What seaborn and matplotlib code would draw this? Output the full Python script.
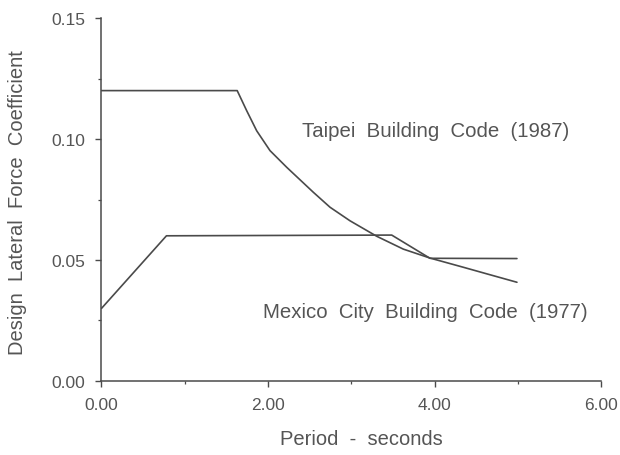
import matplotlib
matplotlib.use("Agg")
import matplotlib.pyplot as plt
from matplotlib.ticker import MultipleLocator, FormatStrFormatter
import seaborn as sns
import pandas as pd

# Taipei Building Code (1987): design lateral force coefficient vs. period
taipei_period = [0.0, 1.63, 1.744, 1.864, 2.024, 2.225, 2.544, 2.745, 2.985,
                 3.306, 3.625, 3.946, 4.346, 4.667, 4.99]
taipei_coef = [0.120, 0.120, 0.1117, 0.1034, 0.0952, 0.0883, 0.078, 0.0718, 0.0662,
               0.0598, 0.0545, 0.0508, 0.047, 0.0439, 0.0408]

# Mexico City Building Code (1977)
mexico_period = [0.0, 0.78, 3.486, 3.946, 4.99]
mexico_coef = [0.030, 0.060, 0.0603, 0.0507, 0.0506]

x_ticks = [0.0, 2.0, 4.0, 6.0]
y_ticks = [0.00, 0.05, 0.10, 0.15]

taipei = pd.DataFrame({"period": taipei_period, "coef": taipei_coef, "code": "Taipei"})
mexico = pd.DataFrame({"period": mexico_period, "coef": mexico_coef, "code": "Mexico"})
df = pd.concat([taipei, mexico], ignore_index=True)

sns.set_style("ticks")
plt.rcParams["font.family"] = ["Liberation Sans", "DejaVu Sans"]

ink = "#4a4a4a"
txt = "#555555"
fig = plt.figure(figsize=(6.2, 4.56), dpi=100)
ax = fig.add_axes([0.1637, 0.1623, 0.8057, 0.796])

sns.lineplot(data=df, x="period", y="coef", units="code", estimator=None,
             sort=False, color=ink, linewidth=1.2, ax=ax)

ax.set_xlim(0, 6)
ax.set_ylim(0, 0.15)
ax.set_xticks(x_ticks)
ax.set_yticks(y_ticks)
ax.xaxis.set_major_formatter(FormatStrFormatter("%.2f"))
ax.yaxis.set_major_formatter(FormatStrFormatter("%.2f"))
ax.xaxis.set_minor_locator(MultipleLocator(1.0))
ax.yaxis.set_minor_locator(MultipleLocator(0.025))
ax.tick_params(which="major", direction="out", length=4.5, width=1.0,
               colors=ink, labelsize=12.5, pad=7)
ax.tick_params(which="minor", direction="out", length=2.5, width=0.9, colors=ink)
for lab in ax.get_xticklabels() + ax.get_yticklabels():
    lab.set_color(txt)

sns.despine(ax=ax)
for side in ("left", "bottom"):
    ax.spines[side].set_color(ink)
    ax.spines[side].set_linewidth(1.1)

ax.set_xlabel("")
ax.set_ylabel("")
fig.text(361 / 620, 1 - 440 / 456, "Period  -  seconds", ha="center", va="center",
         fontsize=14.5, color=txt)
fig.text(18 / 620, 1 - 203 / 456, "Design  Lateral  Force  Coefficient", ha="center",
         va="center", rotation=90, fontsize=14.5, color=txt)

ax.text(2.405, 0.1037, "Taipei  Building  Code  (1987)", ha="left", va="center",
        fontsize=14.7, color=txt)
ax.text(1.94, 0.0289, "Mexico  City  Building  Code  (1977)", ha="left", va="center",
        fontsize=14.7, color=txt)

fig.savefig("out.png", dpi=100)
